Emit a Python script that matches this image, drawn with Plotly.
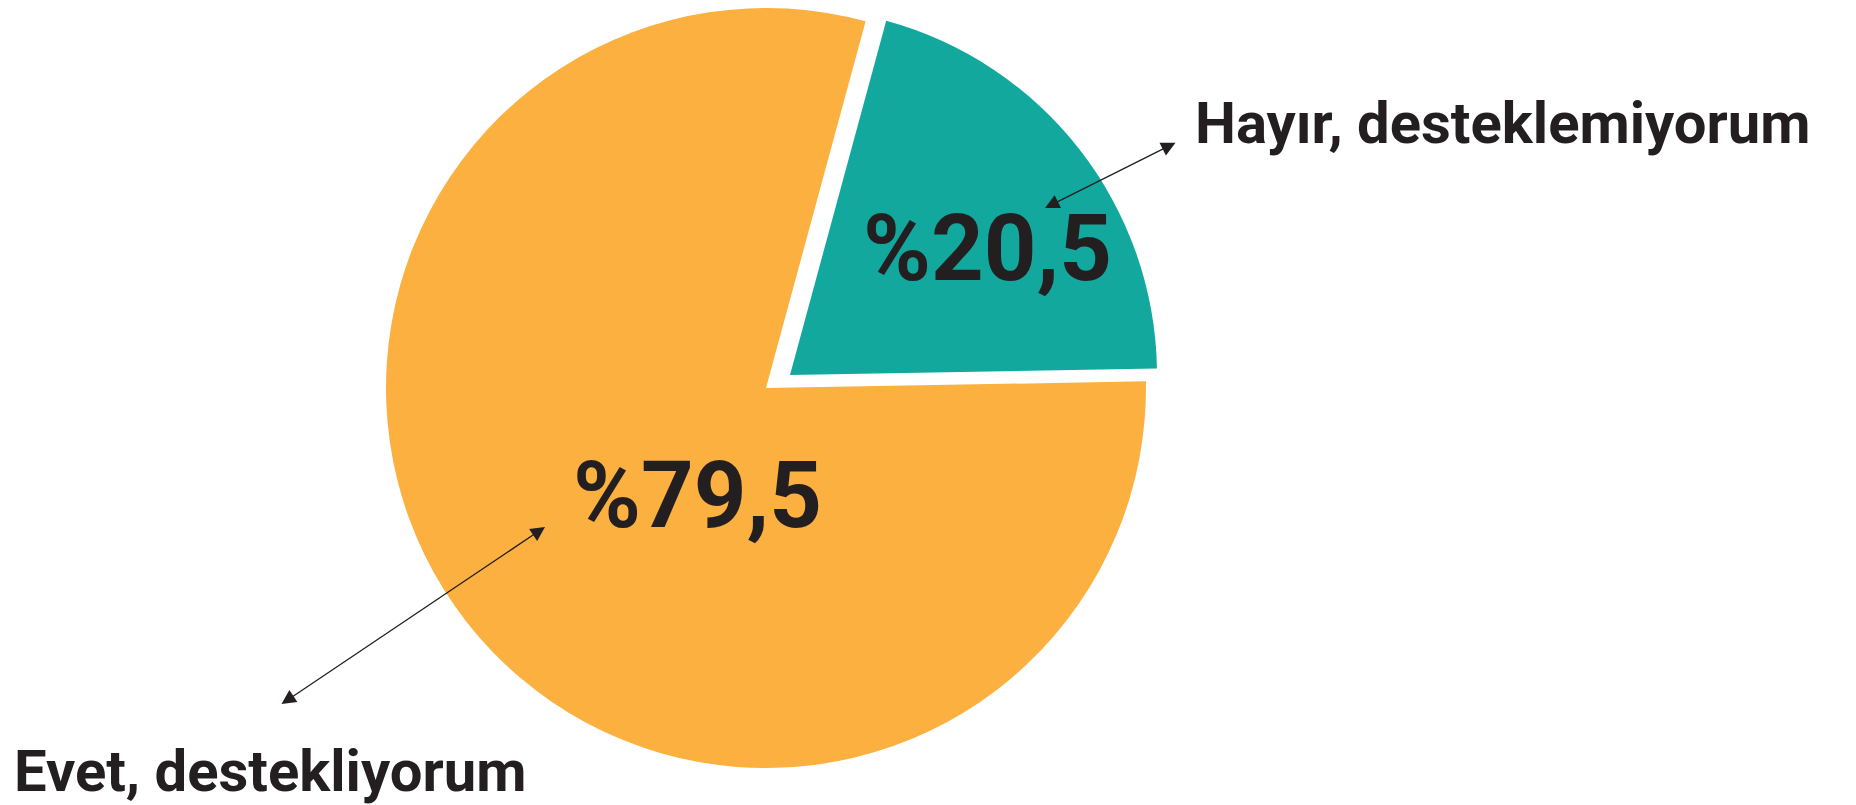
import plotly.graph_objects as go

# data
labels = ["Evet, destekliyorum", "Hayır, desteklemiyorum"]
values = [79.5, 20.5]
colors = ["#FBB040", "#13A89E"]

W, H = 1856, 805
INK = "#231F20"
CLEAR = "rgba(0,0,0,0)"


def dom(cx, cy, r):
    # pie domain from a centre and radius given in pixels
    return dict(x=[(cx - r) / W, (cx + r) / W],
                y=[max(0, 1 - (cy + r) / H), min(1, 1 - (cy - r) / H)])


def pct(v):
    return "%" + f"{v:.1f}".replace(".", ",")


fig = go.Figure()

# main (orange) pie; the teal slice is drawn by a second, shifted pie
fig.add_trace(go.Pie(
    labels=labels, values=values, sort=False, direction="clockwise",
    rotation=89, textinfo="none", hoverinfo="skip", showlegend=False,
    marker=dict(colors=[colors[0], CLEAR], line=dict(width=0)),
    domain=dom(758, 380, 380),
))
fig.add_trace(go.Pie(
    labels=labels, values=values, sort=False, direction="clockwise",
    rotation=89, textinfo="none", hoverinfo="skip", showlegend=False,
    marker=dict(colors=[CLEAR, colors[1]], line=dict(width=0)),
    domain=dom(782, 367, 367),
))

big = dict(family="Roboto, Liberation Sans, sans-serif", size=92, color=INK, weight=700)
lab = dict(family="Roboto, Liberation Sans, sans-serif", size=58, color=INK, weight=700)

annotations = [
    dict(x=979 / W, y=1 - 240 / H, text=pct(values[1]), font=big),
    dict(x=689 / W, y=1 - 487 / H, text=pct(values[0]), font=big),
    dict(x=1185 / W, y=1 - 115 / H, text=labels[1], font=lab, xanchor="left"),
    dict(x=4 / W, y=1 - 763 / H, text=labels[0], font=lab, xanchor="left"),
    # double-headed pointer arrows
    dict(x=1037 / W, y=1 - 200 / H, ax=132, ay=-66, text="", showarrow=True,
         arrowside="end+start", arrowhead=2, arrowsize=2.2, arrowwidth=1.3, arrowcolor=INK),
    dict(x=537 / W, y=1 - 519 / H, ax=-265, ay=178, text="", showarrow=True,
         arrowside="end+start", arrowhead=2, arrowsize=2.2, arrowwidth=1.3, arrowcolor=INK),
]
for a in annotations:
    a.setdefault("showarrow", False)
    a.setdefault("xanchor", "center")
    a.update(xref="paper", yref="paper", yanchor="middle")

fig.update_layout(
    width=W, height=H,
    margin=dict(l=0, r=0, t=0, b=0),
    paper_bgcolor="white",
    plot_bgcolor="white",
    annotations=annotations,
)

fig.write_html("out.html")
